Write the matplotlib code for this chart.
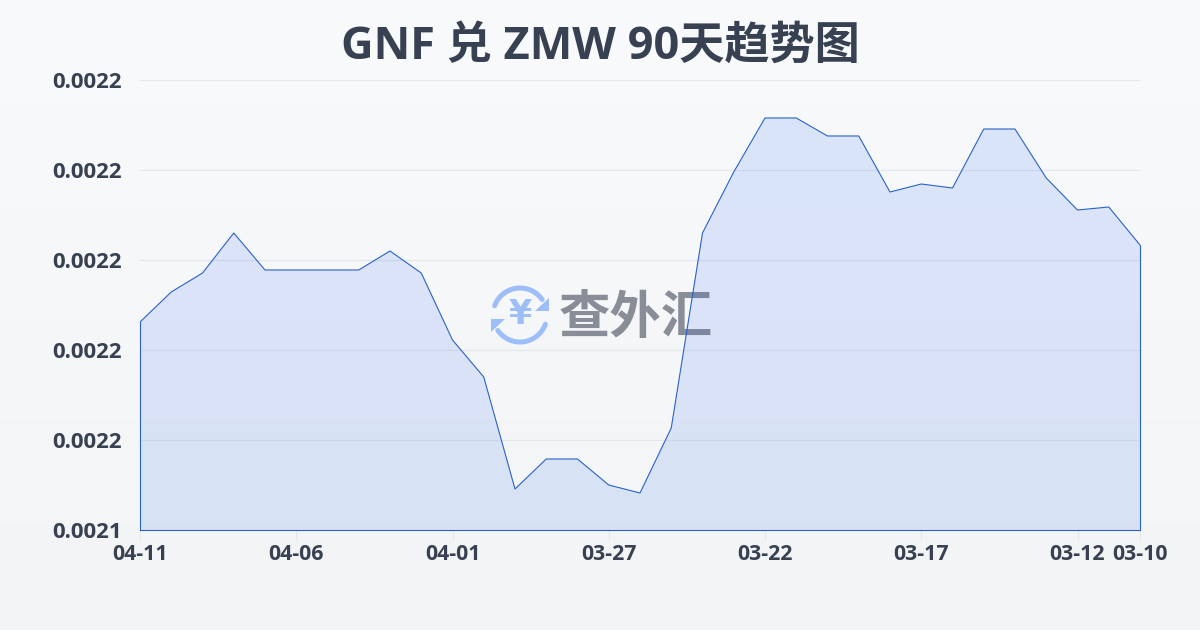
import numpy as np
import matplotlib
matplotlib.use('Agg')
import matplotlib.pyplot as plt
from matplotlib.patches import Arc, Polygon

plt.rcParams['font.family'] = ['Open Sans', 'Noto Sans CJK SC', 'DejaVu Sans']

title = 'GNF 兑 ZMW 90天趋势图'
days = np.arange(33)
rates = [0.00218622, 0.00219289, 0.00219711, 0.00220600, 0.00219778, 0.00219778, 0.00219778,
         0.00219778, 0.00220200, 0.00219711, 0.00218222, 0.00217400, 0.00214911, 0.00215578,
         0.00215578, 0.00215000, 0.00214822, 0.00216267, 0.00220600, 0.00221956, 0.00223156,
         0.00223156, 0.00222756, 0.00222756, 0.00221511, 0.00221689, 0.00221600, 0.00222911,
         0.00222911, 0.00221822, 0.00221111, 0.00221178, 0.00220333]
xtick_pos = [0, 5, 10, 15, 20, 25, 30, 32]
xtick_labels = ['04-11', '04-06', '04-01', '03-27', '03-22', '03-17', '03-12', '03-10']
ytick_pos = [0.00214, 0.00216, 0.00218, 0.00220, 0.00222, 0.00224]
ytick_labels = ['0.0021', '0.0022', '0.0022', '0.0022', '0.0022', '0.0022']

fig = plt.figure(figsize=(12, 6.3), dpi=100)

# page background, light vertical gradient
bg = fig.add_axes([0, 0, 1, 1], zorder=0)
bg.imshow(np.linspace(0, 1, 256).reshape(-1, 1), aspect='auto', extent=[0, 1200, 630, 0],
          cmap=matplotlib.colors.LinearSegmentedColormap.from_list('bg', ['#f8fafc', '#f2f4f6']))
bg.set_xlim(0, 1200)
bg.set_ylim(630, 0)
bg.axis('off')

# watermark logo sits under the chart
blue = '#9dbef8'
for a, b in [(200, 325), (20, 145)]:
    bg.add_patch(Arc((520, 315), 54, 54, theta1=a, theta2=b, color=blue, lw=3.6, capstyle='round'))
bg.add_patch(Polygon([[549, 298], [549, 311], [535, 311]], closed=True, color=blue, lw=0))
bg.add_patch(Polygon([[491, 319], [505, 319], [491, 332]], closed=True, color=blue, lw=0))
bg.text(520, 315, '¥', color=blue, fontsize=24, fontweight='bold', ha='center', va='center',
        family=['DejaVu Sans'])
bg.text(636, 317, '查外汇', color='#888d97', fontsize=37, fontweight='bold', ha='center', va='center',
        family=['Noto Sans CJK SC'])

ax = fig.add_axes([140 / 1200, 1 - 530 / 630, 1000 / 1200, 450 / 630], zorder=1)
ax.patch.set_alpha(0)
ax.set_xlim(0, 32)
ax.set_ylim(0.00214, 0.00224)
ax.fill_between(days, rates, 0.00214, facecolor='#2563eb', alpha=0.13, lw=0, zorder=2)
ax.plot(days, rates, color='#2b62c9', lw=0.8, zorder=3)
ax.plot([0, 0], [0.00214, rates[0]], color='#2b62c9', lw=0.8, zorder=3, clip_on=False)
ax.plot([32, 32], [0.00214, rates[-1]], color='#2b62c9', lw=0.8, zorder=3, clip_on=False)
ax.plot([0, 32], [0.00214, 0.00214], color='#2b62c9', lw=0.8, zorder=3, clip_on=False)

ax.set_yticks(ytick_pos)
ax.set_yticklabels(ytick_labels, fontweight='bold')
ax.set_xticks(xtick_pos)
ax.set_xticklabels(xtick_labels, fontweight='bold')
ax.grid(axis='y', color='#e4e7ec', lw=0.9, zorder=1)
ax.set_axisbelow(True)
for s in ax.spines.values():
    s.set_visible(False)
ax.tick_params(axis='y', length=0, pad=13, labelsize=16, labelcolor='#374151')
ax.tick_params(axis='x', length=7, width=0.8, color='#e4e7ec', pad=3, labelsize=15.3, labelcolor='#374151')

fig.text(0.5, 1 - 47 / 630, title, ha='center', va='center', fontsize=32.5, fontweight='bold', color='#374151')

fig.savefig('out.png', dpi=100)
